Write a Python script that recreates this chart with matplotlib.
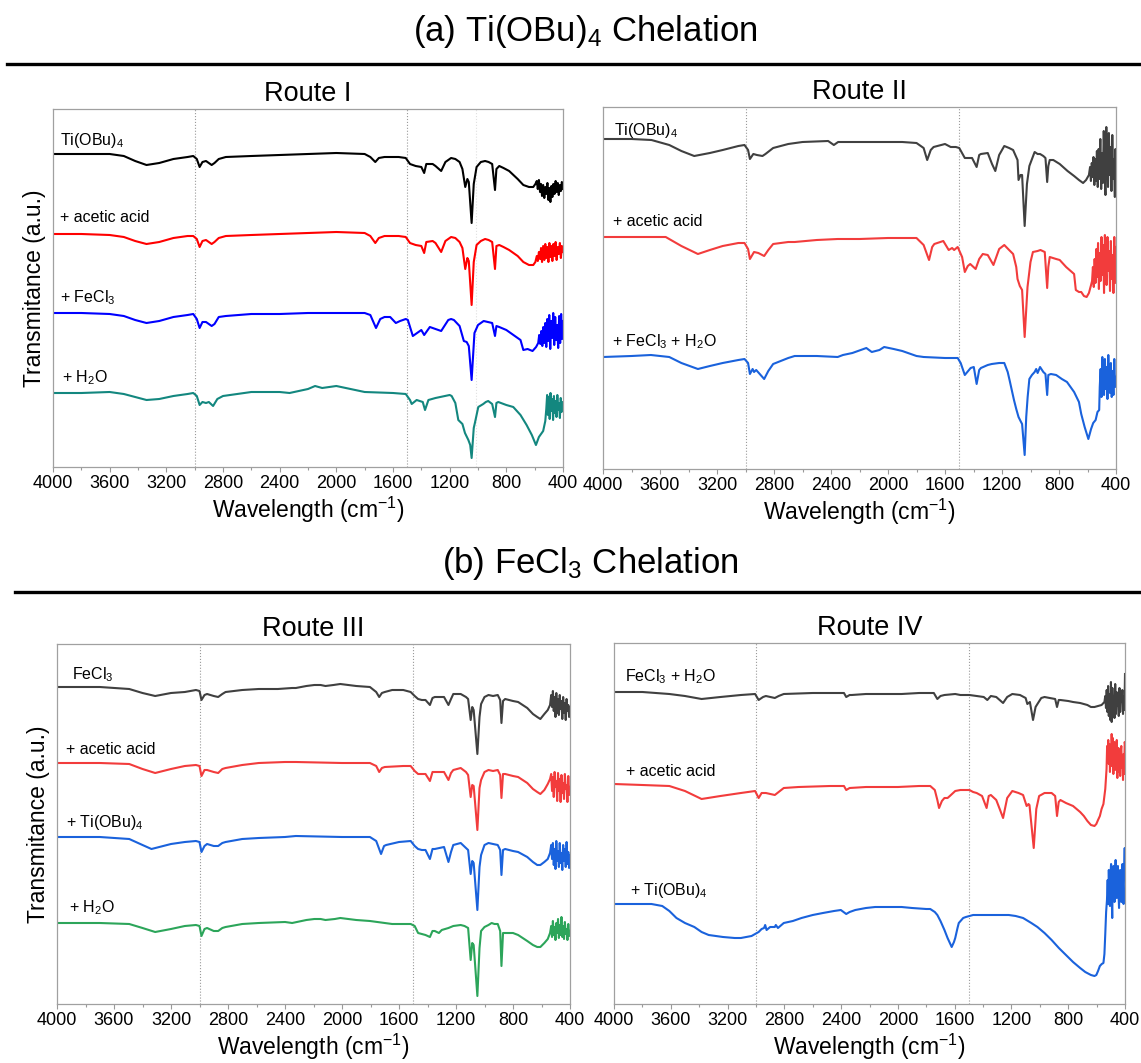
import numpy as np
import matplotlib.pyplot as plt
from matplotlib.lines import Line2D

plt.rcParams['font.family'] = ['Liberation Sans', 'DejaVu Sans']
plt.rcParams['mathtext.fontset'] = 'custom'
plt.rcParams['mathtext.rm'] = 'Liberation Sans'
plt.rcParams['mathtext.it'] = 'Liberation Sans:italic'
plt.rcParams['mathtext.default'] = 'rm'

# spectra: (wavenumber cm-1, transmittance a.u. relative to the trace start)
# ---- Route I ----
r1_tiobu = [(4000,0),(3800,0),(3600,0),(3500,-2),(3420,-7),(3340,-11),(3250,-9),(3150,-5),(3050,-3),(3010,-2),
    (2985,-5),(2965,-13),(2945,-8),(2920,-7),(2880,-11),(2860,-9),(2830,-5),(2780,-3),(2600,-2),(2400,-1),(2200,0),
    (2000,1),(1800,0),(1760,-3),(1725,-8),(1700,-4),(1660,-3),(1560,-3),(1510,-4),(1480,-10),(1440,-12),(1400,-13),
    (1380,-19),(1365,-10),(1320,-10),(1300,-12),(1260,-17),(1230,-8),(1190,-4),(1160,-5),(1130,-8),(1110,-15),
    (1090,-33),(1075,-25),(1065,-28),(1045,-69),(1030,-30),(1010,-13),(980,-8),(950,-7),(925,-8),(900,-10),(880,-36),
    (870,-15),(850,-12),(820,-14),(780,-17),(720,-25),(680,-31),(640,-33),(610,-33),(595,-30),
    (585,-27),(578,-35),(570,-26),(562,-38),(555,-30),(548,-42),(540,-31),(532,-44),(525,-33),(518,-40),(510,-29),
    (503,-46),(496,-34),(489,-48),(482,-32),(475,-43),(468,-30),(460,-40),(452,-27),(445,-38),(437,-29),(430,-41),
    (422,-31),(415,-37),(408,-28),(400,-35)]
r1_acetic = [(4000,0),(3800,0),(3600,-1),(3500,-3),(3420,-7),(3340,-10),(3250,-8),(3150,-4),(3050,-2),(3010,-2),
    (2985,-5),(2965,-13),(2945,-7),(2920,-6),(2880,-10),(2860,-8),(2830,-4),(2780,-2),(2600,-1),(2400,0),(2200,1),
    (2000,2),(1800,1),(1760,-2),(1725,-9),(1700,-4),(1660,-2),(1560,-2),(1510,-3),(1480,-9),(1440,-11),(1400,-12),
    (1380,-19),(1365,-8),(1320,-7),(1300,-9),(1260,-18),(1230,-7),(1190,-3),(1160,-4),(1130,-8),(1110,-14),
    (1090,-35),(1075,-24),(1065,-27),(1045,-71),(1030,-28),(1010,-11),(980,-7),(950,-5),(925,-6),(900,-8),(880,-35),
    (870,-12),(850,-11),(820,-13),(780,-16),(720,-22),(680,-28),(640,-31),(610,-31),(595,-28),
    (585,-22),(578,-27),(570,-18),(562,-25),(555,-14),(548,-28),(540,-12),(532,-26),(525,-10),(518,-24),(510,-13),
    (503,-28),(496,-9),(489,-23),(482,-12),(475,-27),(468,-10),(460,-22),(452,-8),(445,-26),(437,-13),(430,-20),
    (422,-9),(415,-24),(408,-12),(400,-18)]
r1_fecl3 = [(4000,0),(3800,0),(3600,-1),(3500,-3),(3420,-7),(3340,-10),(3250,-8),(3150,-4),(3050,-2),(3010,-1),
    (2985,-6),(2965,-15),(2945,-9),(2920,-9),(2880,-13),(2860,-11),(2830,-4),(2780,-3),(2600,-1),(2400,-1),(2200,0),
    (2000,0),(1800,0),(1760,-2),(1720,-15),(1690,-6),(1660,-4),(1620,-4),(1580,-10),(1550,-8),(1510,-6),(1495,-7),
    (1460,-23),(1420,-19),(1400,-17),(1380,-22),(1340,-14),(1300,-16),(1260,-18),(1210,-7),(1190,-6),(1170,-7),
    (1130,-13),(1100,-28),(1080,-29),(1065,-33),(1045,-67),(1025,-20),(1000,-12),(960,-8),(930,-9),(900,-10),
    (880,-23),(870,-13),(850,-14),(800,-17),(740,-23),(700,-27),(680,-37),(650,-36),(615,-38),(590,-34),(575,-30),
    (568,-22),(560,-31),(553,-18),(546,-33),(539,-14),(532,-30),(525,-10),(518,-34),(511,-6),(504,-28),(497,-2),
    (490,-36),(483,-8),(476,-25),(469,0),(462,-32),(455,-4),(448,-27),(441,-12),(434,-35),(427,-3),(420,-30),
    (413,-1),(406,-26),(400,-8)]
r1_h2o = [(4000,0),(3800,0),(3600,1),(3500,-1),(3420,-4),(3340,-7),(3250,-6),(3150,-3),(3050,-1),(3010,0),
    (2985,-3),(2965,-12),(2945,-9),(2920,-10),(2900,-9),(2870,-13),(2840,-6),(2800,-3),(2600,1),(2400,1),(2330,0),
    (2200,4),(2150,7),(2100,5),(2000,7),(1900,4),(1800,1),(1600,0),(1510,-1),(1480,-7),(1468,-11),(1433,-7),
    (1390,-9),(1374,-17),(1350,-7),(1300,-5),(1200,-2),(1186,-3),(1160,-10),(1139,-27),(1110,-31),(1092,-40),
    (1068,-47),(1055,-52),(1045,-65),(1030,-35),(1022,-30),(998,-14),(963,-11),(945,-9),(928,-8),(900,-11),
    (880,-24),(870,-10),(857,-9),(800,-12),(751,-14),(700,-22),(657,-32),(620,-42),(591,-52),(570,-44),(540,-38),
    (525,-28),(518,-16),(512,-2),(506,-22),(500,-4),(494,-26),(488,0),(482,-18),(476,-6),(470,-27),(464,-3),
    (458,-20),(452,-8),(446,-24),(440,-2),(434,-17),(428,-10),(422,-25),(416,-5),(410,-19),(404,-9),(400,-14)]

# ---- Route II ----
r2_tiobu = [(4000,0),(3800,0),(3660,-1),(3535,-6),(3450,-12),(3360,-17),(3250,-14),(3160,-11),(3050,-7),(3007,-6),
    (2982,-11),(2969,-20),(2945,-15),(2920,-16),(2881,-17),(2860,-15),(2806,-9),(2700,-5),(2600,-3),(2420,-2),
    (2380,-6),(2350,-3),(2200,-3),(2000,-3),(1900,-3),(1800,-4),(1750,-9),(1725,-21),(1700,-11),(1680,-8),(1600,-5),
    (1560,-8),(1524,-8),(1500,-9),(1461,-19),(1430,-19),(1410,-19),(1378,-28),(1360,-16),(1348,-15),(1300,-14),
    (1270,-25),(1247,-32),(1220,-16),(1184,-7),(1150,-9),(1122,-11),(1091,-21),(1084,-41),(1070,-36),(1059,-36),
    (1041,-87),(1025,-45),(1008,-27),(971,-13),(950,-15),(933,-15),(910,-17),(895,-19),(883,-43),(875,-27),
    (865,-21),(840,-21),(795,-25),(740,-32),(694,-37),(660,-41),(631,-44),(610,-41),(590,-36),
    (582,-28),(576,-42),(570,-24),(564,-38),(558,-18),(552,-46),(546,-20),(540,-42),(534,-12),(528,-48),(522,-10),
    (516,-40),(510,0),(504,-50),(498,-14),(492,-44),(486,8),(480,-30),(474,-56),(468,12),(462,-26),(456,-48),
    (450,6),(444,-36),(438,-8),(432,-52),(426,4),(420,-40),(414,-20),(408,-58),(404,-10),(400,-45)]
r2_acetic = [(4000,0),(3800,0),(3560,0),(3450,-9),(3334,-17),(3250,-13),(3160,-9),(3050,-6),(3007,-6),(2982,-12),
    (2969,-22),(2940,-15),(2910,-16),(2869,-19),(2840,-13),(2806,-7),(2700,-5),(2655,-5),(2500,-3),(2353,-2),
    (2200,-2),(2000,-1),(1800,-1),(1750,-8),(1712,-23),(1690,-10),(1675,-7),(1612,-4),(1574,-13),(1550,-11),
    (1536,-13),(1511,-10),(1480,-20),(1461,-35),(1440,-29),(1423,-27),(1385,-32),(1360,-22),(1335,-17),(1300,-18),
    (1280,-23),(1260,-28),(1220,-12),(1184,-8),(1150,-13),(1122,-17),(1100,-30),(1091,-42),(1075,-49),(1059,-53),
    (1041,-100),(1021,-50),(1000,-25),(983,-15),(950,-14),(930,-13),(900,-15),(883,-51),(875,-30),(865,-20),
    (820,-22),(795,-23),(750,-30),(710,-35),(694,-37),(682,-53),(660,-55),(644,-55),(625,-59),(606,-60),(590,-56),
    (575,-48),(568,-44),(562,-30),(556,-50),(550,-22),(544,-46),(538,-12),(532,-40),(526,-6),(520,-52),(514,-16),
    (508,-44),(502,0),(496,-38),(490,-8),(484,-56),(478,2),(472,-30),(466,-48),(460,0),(454,-34),(448,-14),
    (442,-54),(436,-4),(430,-42),(424,-18),(418,-56),(412,0),(406,-46),(400,-10)]
r2_fecl3_h2o = [(4000,0),(3800,1),(3664,2),(3535,0),(3450,-6),(3334,-12),(3250,-9),(3160,-6),(3050,-3),(3007,-2),
    (2982,-6),(2969,-17),(2950,-12),(2940,-15),(2925,-13),(2900,-17),(2869,-22),(2840,-14),(2806,-7),(2700,-1),
    (2655,1),(2500,1),(2353,0),(2316,2),(2250,4),(2152,9),(2114,5),(2060,7),(2027,10),(1960,8),(1900,6),(1800,1),
    (1750,0),(1600,-1),(1511,-1),(1490,-6),(1461,-18),(1420,-11),(1398,-10),(1378,-27),(1360,-13),(1348,-11),
    (1300,-8),(1272,-7),(1220,-6),(1184,-6),(1160,-15),(1147,-23),(1130,-34),(1116,-43),(1100,-52),(1084,-60),
    (1070,-64),(1059,-67),(1041,-98),(1030,-60),(1020,-40),(1008,-22),(990,-18),(971,-15),(960,-12),(950,-16),
    (933,-10),(910,-15),(895,-17),(883,-38),(875,-18),(857,-17),(820,-18),(780,-22),(744,-25),(694,-35),(660,-45),
    (644,-57),(620,-70),(594,-82),(575,-72),(560,-66),(543,-63),(530,-55),(518,-53),
    (514,-30),(508,-12),(502,-40),(496,0),(490,-26),(484,-38),(478,-2),(472,-32),(466,-10),(460,-42),(454,2),
    (448,-28),(442,-36),(436,-6),(430,-40),(424,-14),(418,-38),(412,-2),(406,-30),(400,-20)]

# ---- Route III ----
r3_fecl3 = [(4000,0),(3700,0),(3493,-2),(3400,-6),(3311,-9),(3200,-6),(3103,-5),(3025,-3),(3000,-4),(2986,-13),
    (2965,-8),(2947,-7),(2900,-9),(2869,-10),(2840,-7),(2817,-5),(2700,-3),(2584,-2),(2450,-2),(2350,-1),(2324,-1),
    (2250,1),(2194,2),(2150,2),(2116,1),(2060,2),(2012,3),(1900,1),(1804,0),(1760,-5),(1739,-10),(1720,-6),
    (1700,-5),(1648,-3),(1570,-3),(1518,-5),(1490,-9),(1466,-12),(1440,-13),(1414,-13),(1383,-18),(1365,-11),
    (1349,-10),(1284,-10),(1253,-18),(1235,-12),(1219,-7),(1167,-7),(1130,-10),(1115,-12),(1097,-33),(1086,-20),
    (1076,-23),(1050,-67),(1035,-30),(1024,-17),(1000,-10),(972,-8),(940,-9),(907,-8),(890,-13),(881,-36),(870,-14),
    (855,-12),(800,-14),(764,-15),(700,-21),(660,-27),(630,-30),(608,-32),(580,-27),(556,-23),(540,-18),
    (532,-8),(526,-20),(520,-4),(514,-24),(508,-10),(502,-30),(496,-6),(490,-26),(484,-12),(478,-28),(472,-8),
    (466,-22),(460,-14),(454,-32),(448,-10),(442,-26),(436,-16),(430,-33),(424,-12),(418,-24),(412,-18),(406,-30),
    (400,-20)]
r3_acetic = [(4000,0),(3700,0),(3493,-1),(3400,-6),(3311,-10),(3200,-6),(3103,-3),(3025,-2),(3000,-3),(2986,-13),
    (2965,-7),(2947,-7),(2900,-9),(2869,-10),(2840,-6),(2817,-5),(2700,-2),(2584,0),(2400,1),(2324,1),(2000,0),
    (1804,0),(1760,-3),(1739,-9),(1720,-5),(1700,-4),(1570,-3),(1518,-3),(1490,-8),(1466,-11),(1440,-11),
    (1414,-11),(1383,-18),(1365,-9),(1349,-9),(1284,-9),(1253,-17),(1235,-10),(1219,-7),(1167,-5),(1130,-9),
    (1115,-12),(1097,-34),(1086,-22),(1076,-23),(1050,-67),(1035,-25),(1024,-17),(1000,-9),(972,-7),(940,-8),
    (907,-7),(890,-12),(881,-35),(870,-11),(855,-11),(800,-13),(764,-14),(700,-20),(660,-26),(630,-29),(608,-31),
    (580,-27),(556,-21),(540,-16),(532,-11),(526,-28),(520,-14),(514,-34),(508,-9),(502,-24),(496,-18),(490,-38),
    (484,-10),(478,-28),(472,-16),(466,-39),(460,-12),(454,-30),(448,-20),(442,-36),(436,-11),(430,-26),(424,-22),
    (418,-39),(412,-13),(406,-32),(400,-24)]
r3_tiobu = [(4000,0),(3700,0),(3493,-2),(3400,-8),(3337,-12),(3200,-7),(3103,-5),(3025,-4),(3000,-5),(2986,-15),
    (2965,-9),(2947,-7),(2900,-9),(2869,-9),(2840,-6),(2817,-5),(2700,-2),(2584,-1),(2400,0),(2324,1),(2000,0),
    (1804,0),(1760,-4),(1726,-17),(1705,-9),(1690,-8),(1600,-5),(1518,-4),(1490,-9),(1466,-12),(1440,-13),
    (1414,-13),(1383,-22),(1365,-12),(1349,-12),(1284,-10),(1253,-25),(1235,-15),(1219,-8),(1167,-6),(1130,-11),
    (1115,-13),(1097,-37),(1086,-24),(1076,-26),(1050,-73),(1035,-30),(1024,-18),(1000,-8),(972,-6),(940,-7),
    (907,-8),(890,-13),(881,-38),(870,-13),(855,-12),(800,-14),(764,-15),(700,-20),(660,-25),(630,-28),(608,-28),
    (580,-25),(556,-22),(540,-16),(532,-8),(526,-22),(520,-6),(514,-28),(508,-12),(502,-32),(496,-4),(490,-24),
    (484,-14),(478,-30),(472,-6),(466,-26),(460,-16),(454,-33),(448,-8),(442,-24),(436,-12),(430,-30),(424,-5),
    (418,-27),(412,-15),(406,-31),(400,-18)]
r3_h2o = [(4000,0),(3700,0),(3493,-1),(3400,-5),(3311,-9),(3200,-6),(3103,-3),(3025,-2),(3000,-3),(2986,-13),
    (2965,-6),(2947,-5),(2900,-8),(2869,-8),(2840,-5),(2817,-4),(2700,-1),(2584,0),(2400,1),(2350,0),(2250,3),
    (2194,4),(2150,4),(2116,3),(2050,4),(2012,5),(1900,3),(1804,2),(1700,0),(1648,-1),(1560,-1),(1518,-1),
    (1490,-3),(1466,-10),(1440,-11),(1414,-12),(1383,-14),(1365,-8),(1349,-8),(1320,-10),(1300,-7),(1253,-5),
    (1219,-3),(1167,-2),(1140,-3),(1115,-5),(1097,-37),(1086,-20),(1076,-22),(1050,-73),(1035,-25),(1024,-8),
    (1000,-4),(972,-2),(950,0),(930,-1),(907,-1),(890,-8),(881,-43),(870,-10),(855,-10),(800,-10),(764,-12),
    (700,-18),(660,-22),(630,-24),(608,-24),(580,-20),(556,-16),(540,-10),(532,-3),(526,-14),(520,2),(514,-12),
    (508,-4),(502,-17),(496,0),(490,-10),(484,4),(478,-15),(472,-2),(466,-12),(460,6),(454,-14),(448,-3),(442,-16),
    (436,1),(430,-11),(424,-6),(418,-17),(412,-1),(406,-13),(400,-8)]

# ---- Route IV ----
r4_fecl3_h2o = [(4000,0),(3800,0),(3610,-2),(3500,-4),(3383,-7),(3250,-5),(3106,-3),(3006,-2),(2981,-8),(2950,-5),
    (2930,-4),(2867,-6),(2840,-4),(2804,-2),(2600,-1),(2477,-1),(2380,-1),(2364,-5),(2340,-3),(2326,-3),(2225,-2),
    (2100,-2),(1974,-2),(1850,-1),(1747,-1),(1722,-7),(1700,-4),(1672,-3),(1596,-2),(1560,-3),(1496,-3),(1445,-4),
    (1395,-5),(1370,-8),(1345,-4),(1307,-5),(1259,-11),(1230,-5),(1194,-2),(1140,-3),(1100,-6),(1088,-12),
    (1070,-10),(1048,-28),(1030,-15),(1017,-12),(990,-6),(967,-5),(930,-6),(892,-7),(879,-15),(867,-8),(855,-8),
    (800,-9),(766,-10),(716,-11),(665,-13),(640,-15),(615,-15),(590,-14),(565,-13),(545,-10),
    (539,-4),(534,-16),(529,2),(524,-20),(519,6),(514,-24),(509,-2),(504,-28),(499,10),(494,-30),(489,4),(484,-18),
    (479,-4),(474,-26),(469,8),(464,-22),(459,0),(454,-14),(449,-6),(444,-24),(439,4),(434,-20),(429,-2),(424,-10),
    (419,2),(414,-22),(409,-4),(404,-18),(400,18)]
r4_acetic = [(4000,0),(3800,-1),(3610,-2),(3500,-7),(3383,-15),(3250,-12),(3106,-9),(3006,-7),(2981,-14),(2960,-9),
    (2930,-9),(2867,-11),(2840,-8),(2804,-4),(2700,-3),(2477,-2),(2380,-2),(2364,-6),(2340,-4),(2225,-3),(2000,-3),
    (1850,-2),(1772,-2),(1740,-6),(1722,-16),(1710,-24),(1690,-17),(1672,-14),(1650,-14),(1634,-12),(1596,-7),
    (1560,-6),(1496,-6),(1470,-8),(1445,-9),(1407,-12),(1375,-24),(1360,-12),(1345,-11),(1307,-16),(1280,-26),
    (1259,-34),(1230,-14),(1194,-7),(1150,-9),(1118,-11),(1093,-22),(1080,-20),(1073,-21),(1043,-64),(1025,-25),
    (1005,-12),(967,-9),(917,-9),(892,-12),(879,-32),(867,-18),(855,-16),(816,-19),(766,-22),(716,-28),(690,-32),
    (665,-37),(640,-41),(615,-42),(602,-40),(590,-36),(577,-32),(565,-25),(552,-20),(539,-5),(530,15),
    (526,38),(522,22),(518,44),(514,20),(510,40),(506,12),(502,36),(498,18),(494,50),(490,24),(486,46),(482,10),
    (478,34),(474,42),(470,14),(466,38),(462,20),(458,44),(454,6),(450,30),(446,36),(442,12),(438,28),(434,8),
    (430,32),(426,38),(422,16),(418,26),(414,4),(410,30),(406,10),(402,42),(400,40)]
r4_tiobu = [(4000,0),(3850,0),(3736,0),(3660,-2),(3610,-7),(3560,-14),(3500,-19),(3434,-23),(3383,-28),(3333,-31),
    (3232,-33),(3150,-34),(3106,-34),(3031,-32),(3006,-30),(2981,-28),(2960,-25),(2943,-24),(2935,-21),(2925,-26),
    (2900,-23),(2867,-23),(2860,-21),(2845,-24),(2804,-19),(2740,-17),(2679,-14),(2600,-11),(2528,-9),(2450,-7),
    (2402,-6),(2364,-10),(2340,-8),(2300,-6),(2225,-4),(2160,-3),(2100,-3),(2040,-3),(1974,-3),(1900,-4),(1800,-5),
    (1772,-5),(1740,-8),(1722,-11),(1700,-17),(1672,-26),(1650,-34),(1621,-43),(1605,-38),(1596,-34),(1580,-24),
    (1571,-19),(1540,-14),(1521,-13),(1470,-11),(1400,-11),(1300,-11),(1219,-11),(1170,-12),(1118,-14),(1060,-19),
    (1017,-23),(967,-29),(917,-36),(866,-44),(816,-51),(766,-58),(716,-64),(680,-68),(640,-71),(615,-72),(602,-71),
    (590,-67),(577,-62),(564,-60),(552,-59),(545,-50),(539,-30),(533,-8),(527,4),
    (522,24),(518,0),(514,34),(510,12),(506,-2),(502,30),(498,40),(494,10),(490,-14),(486,28),(482,38),(478,16),
    (474,2),(470,32),(466,44),(462,20),(458,6),(454,30),(450,38),(446,12),(442,-4),(438,24),(434,34),(430,14),
    (426,2),(422,26),(418,40),(414,18),(410,0),(406,36),(402,56),(400,40)]

# per route: traces, labels, colors, vertical stacking offsets
route1_traces = [r1_tiobu, r1_acetic, r1_fecl3, r1_h2o]
route1_labels = ['Ti(OBu)$_4$', '+ acetic acid', '+ FeCl$_3$', '+ H$_2$O']
route1_colors = ['#000000', '#ff0000', '#0000ff', '#13877f']
route1_offsets = [313, 233, 154, 74]

route2_traces = [r2_tiobu, r2_acetic, r2_fecl3_h2o]
route2_labels = ['Ti(OBu)$_4$', '+ acetic acid', '+ FeCl$_3$ + H$_2$O']
route2_colors = ['#404040', '#f23c3c', '#1a62dc']
route2_offsets = [330, 232, 112]

route3_traces = [r3_fecl3, r3_acetic, r3_tiobu, r3_h2o]
route3_labels = ['FeCl$_3$', '+ acetic acid', '+ Ti(OBu)$_4$', '+ H$_2$O']
route3_colors = ['#404040', '#f23c3c', '#1a62dc', '#2ca55a']
route3_offsets = [317, 241, 167, 81]

route4_traces = [r4_fecl3_h2o, r4_acetic, r4_tiobu]
route4_labels = ['FeCl$_3$ + H$_2$O', '+ acetic acid', '+ Ti(OBu)$_4$']
route4_colors = ['#404040', '#f23c3c', '#1a62dc']
route4_offsets = [312, 220, 100]

W, H = 1141, 1063
fig = plt.figure(figsize=(W/100, H/100), dpi=100)


def px_axes(x0, y0, x1, y1):
    return fig.add_axes([x0/W, 1-y1/H, (x1-x0)/W, (y1-y0)/H])


def draw_route(ax, traces, labels, colors, offsets, label_x, label_dy, title, ymax, ylabel=False):
    for tr, lab, col, off, lx, ldy in zip(traces, labels, colors, offsets, label_x, label_dy):
        arr = np.array(tr, dtype=float)
        ax.plot(arr[:, 0], arr[:, 1] + off, color=col, lw=1.5)
        ax.text(lx, off + ldy, lab, fontsize=11.5, ha='left', va='center')
    for v in (3000, 1500):
        ax.axvline(v, color='#9a9a9a', lw=0.8, ls=':', zorder=0)
    ax.set_xlim(4000, 400)
    ax.set_ylim(0, ymax)
    ax.set_xticks(np.arange(4000, 399, -400))
    ax.set_xticks(np.arange(3800, 399, -400), minor=True)
    ax.tick_params(axis='x', which='major', direction='out', length=3.6, width=0.8,
                   color='#999999', labelsize=13, pad=2)
    ax.tick_params(axis='x', which='minor', direction='out', length=2.2, width=0.8, color='#999999')
    ax.set_yticks([])
    for s in ax.spines.values():
        s.set_color('#a0a0a0')
        s.set_linewidth(0.9)
    ax.set_xlabel('Wavelength (cm$^{-1}$)', fontsize=16.5, labelpad=2)
    if ylabel:
        ax.set_ylabel('Transmitance (a.u.)', fontsize=16.5, labelpad=5)
    ax.text(0.5, 1.0 + 15/ymax, title, transform=ax.transAxes, ha='center', va='center', fontsize=19.5)


ax1 = px_axes(53, 109, 563, 467)
draw_route(ax1, route1_traces, route1_labels, route1_colors, route1_offsets,
           [3951, 3954, 3954, 3936], [14, 17, 15, 15], 'Route I', 358, ylabel=True)
ax1.axvline(1015, color='#e0e0e0', lw=0.8, ls=':', zorder=0)

ax2 = px_axes(603, 107, 1116, 469)
draw_route(ax2, route2_traces, route2_labels, route2_colors, route2_offsets,
           [3923, 3930, 3937], [9, 16, 15], 'Route II', 362)

ax3 = px_axes(57, 644, 570, 1004)
draw_route(ax3, route3_traces, route3_labels, route3_colors, route3_offsets,
           [3895, 3937, 3937, 3917], [12, 14, 14, 15], 'Route III', 360, ylabel=True)

ax4 = px_axes(614, 643, 1125, 1004)
draw_route(ax4, route4_traces, route4_labels, route4_colors, route4_offsets,
           [3925, 3915, 3887], [15, 12, 13], 'Route IV', 361)

# section headers with rule lines
fig.text(585/W, 1-31/H, '(a) Ti(OBu)$_4$ Chelation', ha='center', va='center', fontsize=25)
fig.add_artist(Line2D([7/W, 1], [1-64/H, 1-64/H], color='black', lw=2.4))
fig.text(590/W, 1-564/H, '(b) FeCl$_3$ Chelation', ha='center', va='center', fontsize=25)
fig.add_artist(Line2D([15/W, 1], [1-592/H, 1-592/H], color='black', lw=2.4))

fig.savefig('out.png', dpi=100)
